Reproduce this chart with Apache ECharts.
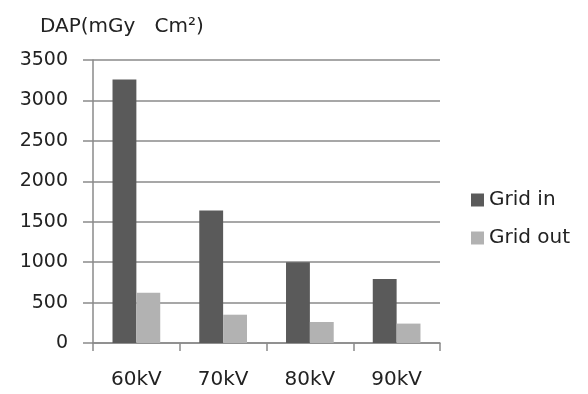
<!DOCTYPE html>
<html>
<head>
<meta charset="utf-8">
<script src="https://cdn.jsdelivr.net/npm/echarts@6/dist/echarts.min.js"></script>
<style>
  html, body { margin: 0; padding: 0; background: #fff; }
  #chart { width: 588px; height: 394px; }
</style>
</head>
<body>
<div id="chart"></div>
<script>
// Dose-area product per tube voltage, with and without the anti-scatter grid
const categories = ['60kV', '70kV', '80kV', '90kV'];
const gridIn = [3260, 1640, 1000, 790];
const gridOut = [620, 350, 260, 240];
const seriesNames = ['Grid in', 'Grid out'];
const yTitle = 'DAP(mGy   Cm\u00B2)';

const FONT = 'DejaVu Sans, Noto Sans, sans-serif';
const TEXT = '#222';
const LINE = '#8a8a8a';

const chart = echarts.init(document.getElementById('chart'), null, { renderer: 'canvas' });
chart.setOption({
  animation: false,
  backgroundColor: '#fff',
  textStyle: { fontFamily: FONT },
  title: {
    text: yTitle,
    left: 35,
    top: 12,
    textStyle: { fontSize: 20, fontWeight: 'normal', color: TEXT, fontFamily: FONT }
  },
  legend: {
    orient: 'vertical',
    left: 466,
    top: 185,
    itemWidth: 13,
    itemHeight: 13,
    itemGap: 18,
    icon: 'rect',
    textStyle: { fontSize: 20, color: TEXT, fontFamily: FONT },
    data: seriesNames
  },
  grid: { left: 93, right: 148, top: 60, bottom: 51, containLabel: false },
  xAxis: {
    type: 'category',
    data: categories,
    axisLine: { lineStyle: { color: LINE, width: 1.5 } },
    axisTick: { show: true, length: 8, lineStyle: { color: LINE, width: 1.5 } },
    axisLabel: { fontSize: 20, color: TEXT, margin: 27, fontFamily: FONT }
  },
  yAxis: {
    type: 'value',
    min: 0,
    max: 3500,
    interval: 500,
    axisLine: { show: true, lineStyle: { color: LINE, width: 1.5 } },
    axisTick: { show: true, length: 10, lineStyle: { color: LINE, width: 1.5 } },
    splitLine: { lineStyle: { color: LINE, width: 1.5 } },
    axisLabel: {
      fontSize: 19,
      color: TEXT,
      margin: 25,
      fontFamily: FONT,
      formatter: (v) => String(v)
    }
  },
  series: [
    {
      name: seriesNames[0],
      type: 'bar',
      data: gridIn,
      barGap: '0%',
      barCategoryGap: '45%',
      itemStyle: { color: '#5a5a5a' }
    },
    {
      name: seriesNames[1],
      type: 'bar',
      data: gridOut,
      itemStyle: { color: '#b2b2b2' }
    }
  ]
});
</script>
</body>
</html>
